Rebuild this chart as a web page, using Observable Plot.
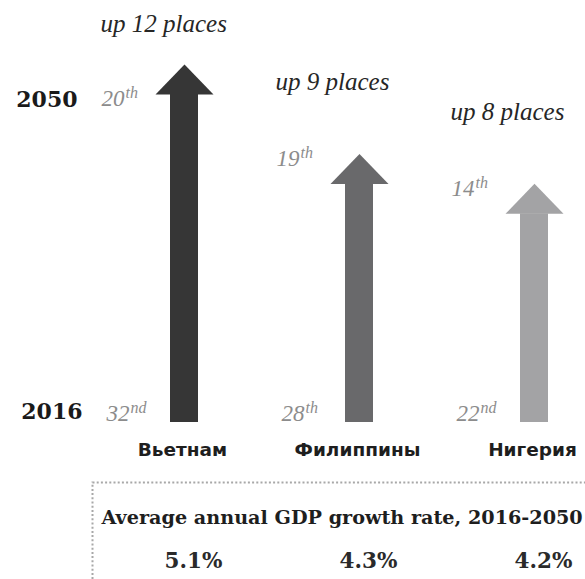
<!DOCTYPE html>
<html>
<head>
<meta charset="utf-8">
<script src="https://cdn.jsdelivr.net/npm/d3@7"></script>
<script src="https://cdn.jsdelivr.net/npm/@observablehq/plot@0.6"></script>
<style>
  html, body { margin: 0; padding: 0; background: #fff; overflow: hidden; }
  svg { overflow: hidden; display: block; }
</style>
</head>
<body>
<script>
const countries = ["Вьетнам", "Филиппины", "Нигерия"];
const rank2016 = [32, 28, 22];
const rank2050 = [20, 19, 14];
const growthRates = [5.1, 4.3, 4.2];
const arrowColors = ["#363636", "#69696b", "#a3a3a5"];
const yearLabels = ["2016", "2050"];
const boxTitle = "Average annual GDP growth rate, 2016-2050";

const ordinalSuffix = n => {
  const t = n % 100;
  if (t >= 11 && t <= 13) return "th";
  switch (n % 10) { case 1: return "st"; case 2: return "nd"; case 3: return "rd"; default: return "th"; }
};

const data = countries.map((country, i) => ({
  country,
  idx: i,
  r16: rank2016[i],
  r50: rank2050[i],
  places: rank2016[i] - rank2050[i],
  growth: growthRates[i]
}));
const maxPlaces = d3.max(data, d => d.places);

// custom arrow-head symbol: tip at the anchor point
const HEAD_W = 29, HEAD_H = 30;
const arrowHead = {
  draw(ctx) {
    ctx.moveTo(0, 0);
    ctx.lineTo(HEAD_W, HEAD_H);
    ctx.lineTo(-HEAD_W, HEAD_H);
    ctx.closePath();
  }
};

const serif = "DejaVu Serif";
const italicSerif = "Liberation Serif";
const sans = "DejaVu Sans";
const labelGray = "#8c8c8c";
const first = (d, i) => i === 0;
const rest = (d, i) => i !== 0;

const upStyle = { fontFamily: italicSerif, fontStyle: "italic", fontSize: 25, fill: "#262626",
  textAnchor: "start", lineAnchor: "bottom" };
const numStyle = { fontFamily: italicSerif, fontStyle: "italic", fontSize: 23, fill: labelGray,
  textAnchor: "start", lineAnchor: "bottom" };
const supStyle = { fontFamily: italicSerif, fontStyle: "italic", fontSize: 16, fill: labelGray,
  textAnchor: "start", lineAnchor: "bottom" };

const chart = Plot.plot({
  width: 585,
  height: 579,
  margin: 0,
  style: { background: "#fff", overflow: "hidden" },
  x: { domain: countries, range: [169, 548], paddingInner: 0.84, paddingOuter: 0, axis: null },
  y: { domain: [0, maxPlaces], range: [422, 64], axis: null },
  color: { domain: countries, range: arrowColors },
  marks: [
    Plot.frame({ stroke: "#a8a8a8", strokeWidth: 2, strokeDasharray: "2,2.2",
      insetLeft: 92, insetTop: 482, insetRight: -20, insetBottom: -20 }),
    // arrow shafts
    Plot.barY(data, { x: "country", y: "places", fill: "country", insetTop: HEAD_H }),
    // arrow heads
    Plot.dot(data, { x: "country", y: "places", fill: "country", symbol: arrowHead }),
    // "up N places"
    Plot.text(data, { ...upStyle, filter: first, x: "country", y: "places",
      text: d => `up ${d.places} places`, dx: -84, dy: -33 }),
    Plot.text(data, { ...upStyle, filter: rest, x: "country", y: "places",
      text: d => `up ${d.places} places`, dx: -84, dy: -64 }),
    // 2050 ranks
    Plot.text(data, { ...numStyle, filter: first, x: "country", y: "places",
      text: d => String(d.r50), dx: -83, dy: 41 }),
    Plot.text(data, { ...supStyle, filter: first, x: "country", y: "places",
      text: d => ordinalSuffix(d.r50), dx: -59, dy: 33 }),
    Plot.text(data, { ...numStyle, filter: rest, x: "country", y: "places",
      text: d => String(d.r50), dx: -83, dy: 12 }),
    Plot.text(data, { ...supStyle, filter: rest, x: "country", y: "places",
      text: d => ordinalSuffix(d.r50), dx: -59, dy: 4 }),
    // 2016 ranks
    Plot.text(data, { ...numStyle, x: "country", y: 0,
      text: d => String(d.r16), dx: -78, dy: -2 }),
    Plot.text(data, { ...supStyle, x: "country", y: 0,
      text: d => ordinalSuffix(d.r16), dx: -54, dy: -10 }),
    // year labels
    Plot.text(yearLabels.slice(0, 1), { frameAnchor: "left", y: 0, text: d => d,
      textAnchor: "end", lineAnchor: "bottom", dx: 82, dy: -4,
      fontFamily: serif, fontWeight: "bold", fontSize: 22, fill: "#1a1a1a" }),
    Plot.text(yearLabels.slice(1), { frameAnchor: "left", y: maxPlaces, text: d => d,
      textAnchor: "end", lineAnchor: "bottom", dx: 77, dy: 42,
      fontFamily: serif, fontWeight: "bold", fontSize: 22, fill: "#1a1a1a" }),
    // country names
    Plot.text(data, { x: "country", y: 0, text: "country",
      lineAnchor: "bottom", dx: -2, dy: 33,
      fontFamily: sans, fontWeight: "bold", fontSize: 18.5, fill: "#1e1e1e" }),
    // box title
    Plot.text([boxTitle], { frameAnchor: "top-left", text: d => d,
      textAnchor: "start", lineAnchor: "bottom", dx: 101, dy: 523,
      fontFamily: serif, fontWeight: "bold", fontSize: 19.2, fill: "#1e1e1e" }),
    // growth values
    Plot.text(data, { x: "country", y: 0, text: d => `${d.growth.toFixed(1)}%`,
      lineAnchor: "bottom", dx: 9, dy: 145,
      fontFamily: serif, fontWeight: "bold", fontSize: 21.5, fill: "#2a2a2a" })
  ]
});
document.body.appendChild(chart);
</script>
</body>
</html>
